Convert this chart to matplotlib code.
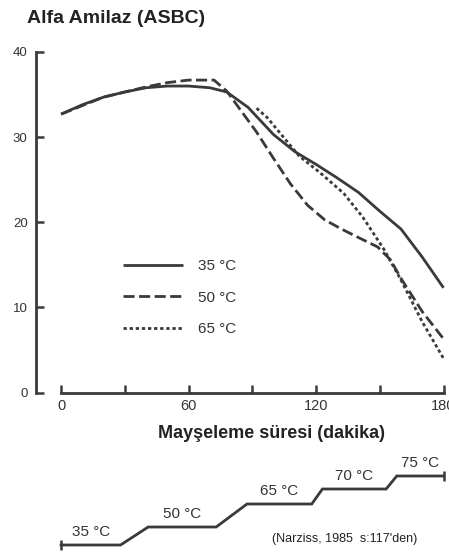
import matplotlib
matplotlib.use("Agg")
import matplotlib.pyplot as plt

plt.rcParams['font.family'] = ['Liberation Sans', 'DejaVu Sans']

# alpha amylase activity (ASBC) vs mashing time (min)
t_35 = [0, 10, 20, 30, 40, 50, 60, 70, 78, 88, 100, 110, 120, 130, 140, 150, 160, 170, 180]
a_35 = [32.7, 33.8, 34.7, 35.3, 35.8, 36.0, 36.0, 35.8, 35.3, 33.5, 30.3, 28.3, 26.8,
        25.2, 23.5, 21.3, 19.2, 15.9, 12.3]
t_50 = [0, 20, 40, 50, 60, 72, 78, 85, 92, 100, 108, 116, 124, 132, 140, 149, 155, 160, 170, 180]
a_50 = [32.7, 34.7, 35.9, 36.4, 36.7, 36.7, 35.4, 33.0, 30.6, 27.5, 24.5, 22.0, 20.3,
        19.2, 18.2, 17.1, 15.6, 13.4, 9.5, 6.3]
t_65 = [92, 97, 102, 112, 122, 133, 142, 152, 160, 170, 180]
a_65 = [33.4, 32.3, 30.8, 27.8, 25.8, 23.4, 20.6, 16.8, 13.2, 8.3, 4.0]
labels = ["35 °C", "50 °C", "65 °C"]

# mashing programme (schematic)
step_temps = [35, 50, 65, 70, 75]
step_start = [0, 41, 87.5, 123, 158]
step_end = [28, 73, 118, 153, 180]
step_height = [0, 18, 41, 56, 69]

W, H = 449, 554
col = '#3a3a3a'
txt = '#222222'

fig = plt.figure(figsize=(W / 100, H / 100), dpi=100)
ax = fig.add_axes([36 / W, (H - 392.5) / H, (445 - 36) / W, 340.5 / H])

lw = 2.0
l1, = ax.plot(t_35, a_35, color=col, lw=lw, solid_capstyle='butt')
l2, = ax.plot(t_50, a_50, color=col, lw=lw, ls=(0, (4, 1.6)))
l3, = ax.plot(t_65, a_65, color=col, lw=lw, ls=(0, (1.2, 1.0)))

ax.set_xlim(-11.8, 180.7)
ax.set_ylim(0, 40)
ax.spines['top'].set_visible(False)
ax.spines['right'].set_visible(False)
ax.spines['left'].set_bounds(0, 40)
ax.spines['bottom'].set_bounds(0, 180)
for s in ['left', 'bottom']:
    ax.spines[s].set_linewidth(2.0)
    ax.spines[s].set_color(col)

ax.set_xticks([0, 60, 120, 180])
ax.set_xticks([30, 90, 150], minor=True)
ax.set_yticks([0, 10, 20, 30, 40])
ax.tick_params(axis='both', which='both', direction='in', length=6, width=1.8,
               color=col, labelcolor='#333333')
ax.tick_params(axis='x', pad=5, labelsize=10.5)
ax.tick_params(axis='y', pad=6, labelsize=9.5)

leg = ax.legend([l1, l2, l3], labels, loc='upper left',
                bbox_to_anchor=(123 / W, 1 - 259 / H), bbox_transform=fig.transFigure,
                frameon=False, fontsize=11, handlelength=3.9, handletextpad=1.0,
                labelspacing=1.15, borderpad=0, borderaxespad=0)
for t in leg.get_texts():
    t.set_color('#333333')

fig.text(27 / W, 1 - 10 / H, "Alfa Amilaz (ASBC)", fontsize=14, fontweight='bold',
         color=txt, ha='left', va='top')
fig.text(272 / W, 1 - 434 / H, "Mayşeleme süresi (dakika)", fontsize=13,
         fontweight='bold', color=txt, ha='center', va='center')

# step diagram of mash temperatures
ax2 = fig.add_axes([36 / W, 0, (445 - 36) / W, 110 / H])
ax2.set_xlim(ax.get_xlim())
ax2.set_ylim(-9, 101)
ax2.axis('off')
xs, ys = [], []
for s, e, h in zip(step_start, step_end, step_height):
    xs += [s, e]
    ys += [h, h]
ax2.plot(xs, ys, color=col, lw=2.0, solid_joinstyle='miter')
ax2.plot([xs[0], xs[-1]], [ys[0], ys[-1]], ls='none', marker='|', ms=7, mew=1.8, color=col)
for s, e, h, tc in zip(step_start, step_end, step_height, step_temps):
    ax2.annotate(f"{tc} °C", ((s + e) / 2, h), xytext=(0, 4), textcoords='offset points',
                 ha='center', va='bottom', fontsize=11, color='#333333')

fig.text(345 / W, 1 - 539 / H, "(Narziss, 1985  s:117'den)", fontsize=9, color=txt,
         ha='center', va='center')

fig.savefig("out.png", dpi=100)
